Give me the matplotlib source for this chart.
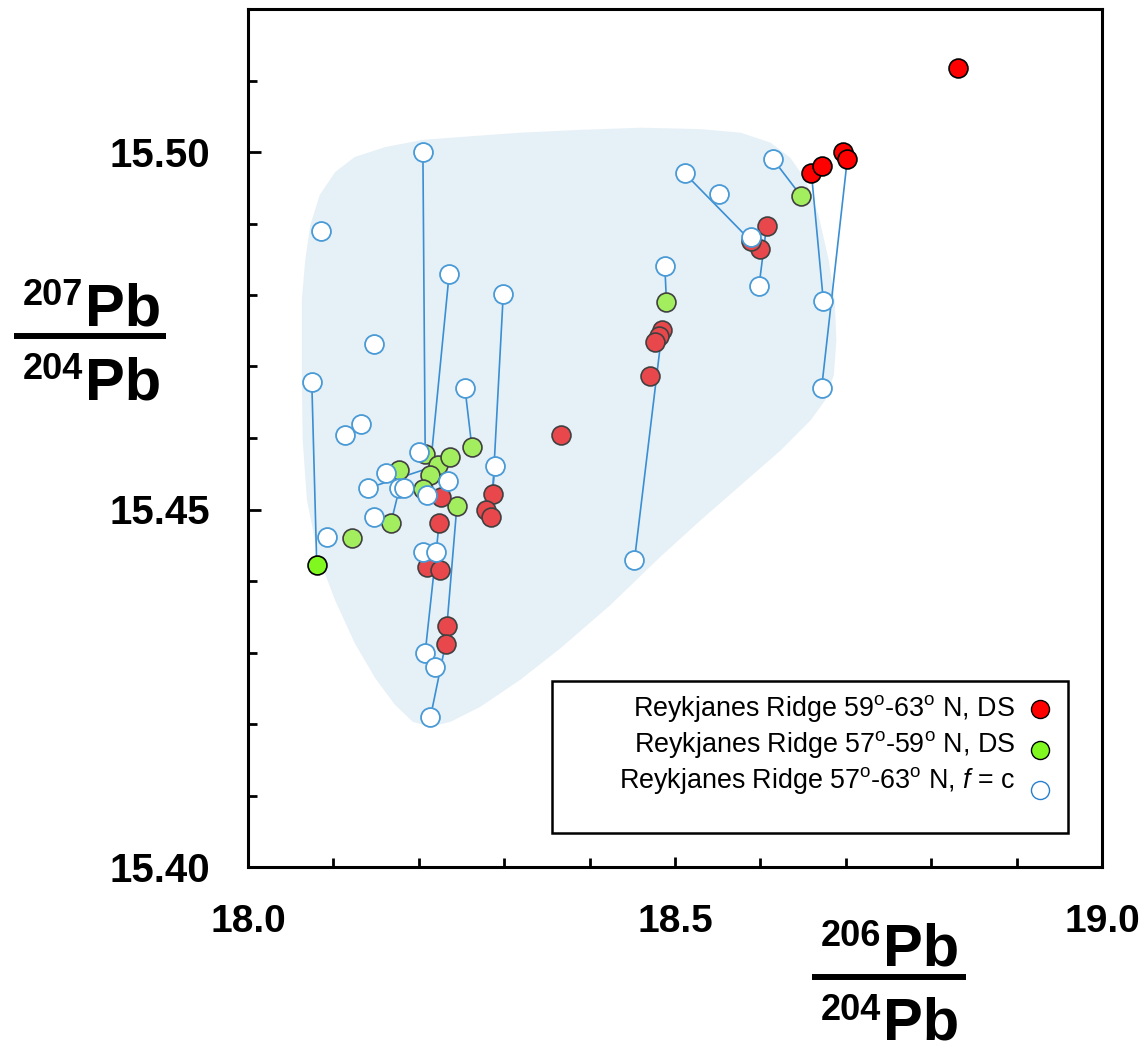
import matplotlib
matplotlib.use('Agg')
import matplotlib.pyplot as plt
from matplotlib.lines import Line2D
from matplotlib.patches import Rectangle
from matplotlib.ticker import MultipleLocator

# --- data: 206Pb/204Pb (x) and 207Pb/204Pb (y) ---
# Reykjanes Ridge 59-63 N, DS
red_x = [18.3670, 18.2263, 18.2239, 18.2864, 18.2786, 18.2845, 18.2095, 18.2251,
         18.2329, 18.2313, 18.6073, 18.5995, 18.5885, 18.4850, 18.4811, 18.4771,
         18.4713]
red_y = [15.4604, 15.4518, 15.4481, 15.4522, 15.4500, 15.4489, 15.4420, 15.4416,
         15.4337, 15.4312, 15.4897, 15.4864, 15.4876, 15.4751, 15.4742, 15.4734,
         15.4687]
# most radiogenic DS samples (outlined in black)
red_hi_x = [18.8310, 18.6597, 18.6725, 18.6967, 18.7018]
red_hi_y = [15.5117, 15.4971, 15.4981, 15.5000, 15.4990]

# Reykjanes Ridge 57-59 N, DS
green_x = [18.1223, 18.1673, 18.1770, 18.2075, 18.2222, 18.2126, 18.2368, 18.2622,
           18.2446, 18.2055, 18.6479, 18.4900]
green_y = [15.4460, 15.4481, 15.4555, 15.4577, 15.4562, 15.4548, 15.4574, 15.4587,
           15.4505, 15.4529, 15.4938, 15.4790]
green_hi_x = [18.0805]
green_hi_y = [15.4423]

# Reykjanes Ridge 57-63 N, f = c
open_x = [18.2048, 18.0860, 18.2356, 18.2989, 18.1473, 18.0747, 18.2540, 18.1321,
          18.1141, 18.1997, 18.1614, 18.1410, 18.1774, 18.1821, 18.2341, 18.2095,
          18.2888, 18.1480, 18.0922, 18.2055, 18.2200, 18.4525, 18.2075, 18.2188,
          18.2137, 18.6147, 18.5115, 18.5514, 18.5885, 18.5983, 18.6737, 18.6717,
          18.4881]
open_y = [15.5000, 15.4889, 15.4830, 15.4801, 15.4731, 15.4678, 15.4670, 15.4620,
          15.4604, 15.4581, 15.4551, 15.4530, 15.4530, 15.4530, 15.4540, 15.4520,
          15.4561, 15.4490, 15.4461, 15.4440, 15.4440, 15.4429, 15.4300, 15.4280,
          15.4210, 15.4990, 15.4970, 15.4941, 15.4881, 15.4812, 15.4792, 15.4670,
          15.4840]

# tie lines between f = c compositions and DS samples
tie_x0 = [18.0747, 18.2048, 18.2356, 18.2540, 18.2989, 18.2888, 18.1410, 18.1774,
          18.2446, 18.2239, 18.2137, 18.5115, 18.6147, 18.6597, 18.7018, 18.5983,
          18.4881, 18.4525]
tie_y0 = [15.4678, 15.5000, 15.4830, 15.4670, 15.4801, 15.4561, 15.4530, 15.4530,
          15.4505, 15.4481, 15.4210, 15.4970, 15.4990, 15.4971, 15.4990, 15.4812,
          15.4840, 15.4429]
tie_x1 = [18.0805, 18.2075, 18.2126, 18.2622, 18.2864, 18.2845, 18.2222, 18.1673,
          18.2329, 18.2075, 18.2313, 18.5885, 18.6479, 18.6737, 18.6717, 18.6073,
          18.4900, 18.4850]
tie_y1 = [15.4423, 15.4577, 15.4548, 15.4587, 15.4522, 15.4489, 15.4562, 15.4481,
          15.4337, 15.4300, 15.4312, 15.4876, 15.4938, 15.4792, 15.4670, 15.4897,
          15.4790, 15.4751]

# outline of the shaded field
field_x = [18.205, 18.260, 18.319, 18.389, 18.460, 18.530, 18.577, 18.612, 18.635,
           18.653, 18.668, 18.680, 18.687, 18.689, 18.686, 18.676, 18.659, 18.624,
           18.577, 18.530, 18.483, 18.424, 18.366, 18.319, 18.272, 18.237, 18.213,
           18.193, 18.172, 18.149, 18.125, 18.102, 18.082, 18.069, 18.064, 18.063,
           18.063, 18.067, 18.073, 18.084, 18.102, 18.125, 18.161]
field_y = [15.5017, 15.5022, 15.5027, 15.5031, 15.5034, 15.5032, 15.5027, 15.5013,
           15.4992, 15.4961, 15.4912, 15.4849, 15.4793, 15.4737, 15.4688, 15.4653,
           15.4625, 15.4583, 15.4534, 15.4485, 15.4434, 15.4366, 15.4306, 15.4262,
           15.4224, 15.4203, 15.4196, 15.4203, 15.4227, 15.4264, 15.4313, 15.4373,
           15.4436, 15.4513, 15.4597, 15.4681, 15.4793, 15.4849, 15.4898, 15.4940,
           15.4972, 15.4993, 15.5007]

legend_labels = [
    r'Reykjanes Ridge 59$^{\mathrm{o}}$-63$^{\mathrm{o}}$ N, DS',
    r'Reykjanes Ridge 57$^{\mathrm{o}}$-59$^{\mathrm{o}}$ N, DS',
    r'Reykjanes Ridge 57$^{\mathrm{o}}$-63$^{\mathrm{o}}$ N, $\mathit{f}$ = c',
]
legend_face = ['#FF0000', '#80F820', 'white']
legend_edge = ['black', 'black', '#2A7FCC']

# --- fonts ---
base_font = 'Liberation Sans'
plt.rcParams['font.family'] = base_font
plt.rcParams['mathtext.fontset'] = 'custom'
plt.rcParams['mathtext.rm'] = base_font
plt.rcParams['mathtext.it'] = base_font + ':italic'
plt.rcParams['mathtext.bf'] = base_font + ':bold'

W, H = 1146, 1044
fig = plt.figure(figsize=(W / 100, H / 100), dpi=100)
ax = fig.add_axes([248 / W, 1 - 867 / H, 854 / W, 858 / H])

# shaded field
ax.fill(field_x, field_y, color='#E6F1F7', lw=0, zorder=1)

# tie lines
for x0, y0, x1, y1 in zip(tie_x0, tie_y0, tie_x1, tie_y1):
    ax.plot([x0, x1], [y0, y1], color='#3A8ED3', lw=1.2, zorder=2)

ms = 185
ax.scatter(green_x, green_y, s=ms, c='#A2EE5E', edgecolors='#404040', linewidths=1.2, zorder=3)
ax.scatter(green_hi_x, green_hi_y, s=ms, c='#80F820', edgecolors='black', linewidths=1.2, zorder=3)
ax.scatter(red_x, red_y, s=ms, c='#E8474C', edgecolors='#404040', linewidths=1.2, zorder=4)
ax.scatter(red_hi_x, red_hi_y, s=ms, c='#FF0000', edgecolors='black', linewidths=1.2, zorder=4)
ax.scatter(open_x, open_y, s=ms, c='white', edgecolors='#4A9AD6', linewidths=1.3, zorder=5)

ax.set_xlim(18.0, 19.0)
ax.set_ylim(15.40, 15.52)
ax.xaxis.set_major_locator(MultipleLocator(0.5))
ax.xaxis.set_minor_locator(MultipleLocator(0.1))
ax.yaxis.set_major_locator(MultipleLocator(0.05))
ax.yaxis.set_minor_locator(MultipleLocator(0.01))
ax.xaxis.set_major_formatter('{x:.1f}')
ax.yaxis.set_major_formatter('{x:.2f}')

for s in ax.spines.values():
    s.set_linewidth(2.2)
ax.tick_params(which='both', direction='in', top=False, right=False, width=2)
ax.tick_params(axis='x', which='major', length=7.5, pad=27, labelsize=28)
ax.tick_params(axis='x', which='minor', length=6.5)
ax.tick_params(axis='y', which='major', length=9, pad=27.5, labelsize=29)
ax.tick_params(axis='y', which='minor', length=6.5)
plt.setp(ax.get_xticklabels() + ax.get_yticklabels(), fontweight='bold')

# legend: framed box, labels right-aligned with the symbol after each label
ax.add_patch(Rectangle((0.356, 0.0396), 0.604, 0.1772, transform=ax.transAxes,
                       fill=False, lw=1.8, edgecolor='black', zorder=6))
text_base = [0.1760, 0.1340, 0.0921]
mark_y = [0.1841, 0.1364, 0.0897]
for label, yb, ym, fc, ec in zip(legend_labels, text_base, mark_y, legend_face, legend_edge):
    ax.text(0.8981, yb, label, transform=ax.transAxes, ha='right', va='baseline',
            fontsize=19.4, zorder=7)
    ax.plot([0.9274], [ym], transform=ax.transAxes, ls='none', marker='o', ms=13,
            mfc=fc, mec=ec, mew=1.0, zorder=7)


def ratio_label(x_right, base_y, top, bottom, bar_x0, bar_x1, bar_y):
    # isotope ratio written as a stacked fraction in figure pixels
    for sup, y in ((top, base_y[0]), (bottom, base_y[1])):
        fig.text(x_right / W, 1 - y / H, 'Pb', ha='left', va='baseline',
                 fontsize=43, fontweight='bold')
        fig.text((x_right - 2) / W, 1 - (y - 20) / H, sup, ha='right',
                 va='baseline', fontsize=26, fontweight='bold')
    fig.add_artist(Line2D([bar_x0 / W, bar_x1 / W], [1 - bar_y / H, 1 - bar_y / H],
                          transform=fig.transFigure, color='black', lw=4.3,
                          solid_capstyle='butt'))


ratio_label(85, (325, 399), '207', '204', 14, 166, 336)
ratio_label(883, (966, 1040), '206', '204', 812, 966, 977)

fig.savefig('out.png', dpi=100)
